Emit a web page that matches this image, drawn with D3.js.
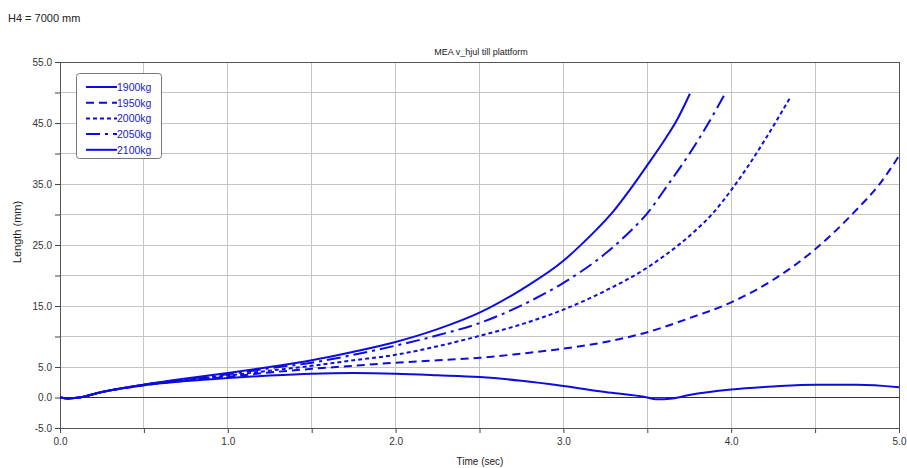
<!DOCTYPE html>
<html>
<head>
<meta charset="utf-8">
<script src="https://cdn.jsdelivr.net/npm/d3@7"></script>
<style>
  html, body { margin: 0; padding: 0; background: #fff; }
  svg { display: block; font-family: "Liberation Sans", Arial, sans-serif; }
</style>
</head>
<body>
<svg id="chart" width="907" height="468"></svg>
<script>
// ---- Data ----
const seriesNames = ["1900kg", "1950kg", "2000kg", "2050kg", "2100kg"];

const t1900 = [0, 0.05, 0.1, 0.25, 0.5, 0.75, 1.0, 1.25, 1.5, 1.75, 2.0, 2.25, 2.5, 2.75, 3.0, 3.25, 3.5, 3.55, 3.65, 3.75, 4.0, 4.25, 4.5, 4.75, 5.0];
const v1900 = [0, -0.15, -0.05, 0.9, 2.0, 2.7, 3.2, 3.6, 3.9, 4.0, 3.9, 3.65, 3.35, 2.75, 1.9, 0.9, 0.0, -0.3, -0.15, 0.4, 1.3, 1.8, 2.1, 2.1, 1.7];

const t1950 = [0, 0.05, 0.1, 0.25, 0.5, 0.75, 1.0, 1.25, 1.5, 1.75, 2.0, 2.25, 2.5, 2.75, 3.0, 3.25, 3.5, 3.75, 4.0, 4.25, 4.5, 4.73, 4.89, 5.0];
const v1950 = [0, -0.15, -0.05, 0.9, 2.0, 2.8, 3.4, 4.1, 4.7, 5.2, 5.7, 6.1, 6.5, 7.2, 8.0, 9.1, 10.7, 13.0, 15.6, 19.3, 24.3, 30.3, 35.2, 39.6];

const t2000 = [0, 0.05, 0.1, 0.25, 0.5, 0.75, 1.0, 1.25, 1.5, 1.75, 2.0, 2.25, 2.5, 2.75, 3.0, 3.25, 3.5, 3.6, 3.7, 3.8, 3.9, 4.0, 4.1, 4.2, 4.35];
const v2000 = [0, -0.15, -0.05, 0.9, 2.1, 2.9, 3.6, 4.4, 5.2, 6.1, 7.0, 8.4, 10.1, 12.0, 14.4, 17.5, 21.3, 23.2, 25.3, 27.7, 30.5, 34.0, 37.9, 42.2, 49.1];

const t2050 = [0, 0.05, 0.1, 0.25, 0.5, 0.75, 1.0, 1.25, 1.5, 1.75, 2.0, 2.25, 2.5, 2.75, 3.0, 3.25, 3.4, 3.5, 3.616, 3.745, 3.854, 3.967];
const v2050 = [0, -0.15, -0.05, 0.9, 2.1, 3.0, 3.8, 4.8, 5.7, 7.0, 8.5, 10.2, 12.2, 15.1, 18.8, 23.6, 27.3, 30.2, 34.6, 39.7, 44.5, 50.0];

const t2100 = [0, 0.05, 0.1, 0.25, 0.5, 0.75, 1.0, 1.25, 1.5, 1.75, 2.0, 2.25, 2.5, 2.75, 3.0, 3.1, 3.2, 3.3, 3.4, 3.5, 3.6, 3.675, 3.754];
const v2100 = [0, -0.15, -0.05, 0.9, 2.1, 3.1, 4.0, 5.0, 6.1, 7.5, 9.1, 11.2, 13.9, 17.7, 22.4, 24.9, 27.6, 30.6, 34.2, 38.1, 42.1, 45.4, 49.8];

const xTicks = [0, 1, 2, 3, 4, 5];
const yTickLabels = [55, 45, 35, 25, 15, 5, 0, -5];

const seriesTimes = [t1900, t1950, t2000, t2050, t2100];
const seriesValues = [v1900, v1950, v2000, v2050, v2100];
const dashes = [null, "8,5", "4,3", "14,5,3,5", null];

// ---- Layout ----
const svg = d3.select("#chart");
const m = { left: 60, right: 899, top: 62, bottom: 428 };
const x = d3.scaleLinear().domain([0, 5]).range([m.left, m.right]);
const y = d3.scaleLinear().domain([-5, 55]).range([m.bottom, m.top]);
const blue = "#0c0ce0";
const fmt1 = v => v.toFixed(1);

svg.append("text").attr("x", 8).attr("y", 22).attr("font-size", 11).attr("fill", "#222").text("H4 = 7000 mm");
svg.append("text").attr("x", 481).attr("y", 55).attr("font-size", 9).attr("text-anchor", "middle").attr("fill", "#222").text("MEA v_hjul till plattform");

// grid
const g = svg.append("g");
g.selectAll(".vg").data(d3.range(0.5, 5, 0.5)).enter().append("line")
  .attr("x1", d => x(d)).attr("x2", d => x(d)).attr("y1", m.top).attr("y2", m.bottom)
  .attr("stroke", "#c4c4c4").attr("stroke-width", 1).attr("shape-rendering", "crispEdges");
g.selectAll(".hg").data(d3.range(0, 55, 5)).enter().append("line")
  .attr("x1", m.left).attr("x2", m.right).attr("y1", d => y(d)).attr("y2", d => y(d))
  .attr("stroke", "#c4c4c4").attr("stroke-width", 1).attr("shape-rendering", "crispEdges");
// zero line
g.append("line").attr("x1", m.left).attr("x2", m.right).attr("y1", y(0)).attr("y2", y(0))
  .attr("stroke", "#333").attr("stroke-width", 1).attr("shape-rendering", "crispEdges");

// axes
const yAxis = d3.axisLeft(y).tickValues(d3.range(-5, 56, 5)).tickSize(5)
  .tickFormat(d => yTickLabels.includes(d) ? fmt1(d) : "");
const ya = svg.append("g").attr("transform", `translate(${m.left},0)`).call(yAxis);
ya.select(".domain").remove();
ya.selectAll("line").attr("stroke", "#444");
ya.selectAll("text").attr("font-size", 10).attr("fill", "#333").attr("x", -8)
  .attr("font-family", "Liberation Sans, Arial, sans-serif");

const xAxis = d3.axisBottom(x).tickValues(d3.range(0, 5.01, 0.5)).tickSize(5)
  .tickFormat(d => xTicks.includes(d) ? fmt1(d) : "");
const xa = svg.append("g").attr("transform", `translate(0,${m.bottom})`).call(xAxis);
xa.select(".domain").remove();
xa.selectAll("line").attr("stroke", "#444");
xa.selectAll("text").attr("font-size", 10).attr("fill", "#333").attr("y", 10)
  .attr("font-family", "Liberation Sans, Arial, sans-serif");

// frame
svg.append("rect").attr("x", m.left).attr("y", m.top).attr("width", m.right - m.left).attr("height", m.bottom - m.top)
  .attr("fill", "none").attr("stroke", "#555").attr("stroke-width", 1).attr("shape-rendering", "crispEdges");

svg.append("text").attr("x", 480).attr("y", 465).attr("font-size", 10).attr("text-anchor", "middle").attr("fill", "#222").text("Time (sec)");
svg.append("text").attr("transform", "translate(21,232) rotate(-90)").attr("font-size", 11).attr("text-anchor", "middle").attr("fill", "#222").text("Length (mm)");

// series
const line = d3.line().x(d => x(d[0])).y(d => y(d[1])).curve(d3.curveMonotoneX);
seriesNames.forEach((name, i) => {
  const pts = seriesTimes[i].map((t, j) => [t, seriesValues[i][j]]);
  svg.append("path").datum(pts).attr("d", line)
    .attr("fill", "none").attr("stroke", blue).attr("stroke-width", 2)
    .attr("stroke-dasharray", dashes[i]);
});

// legend
const lg = svg.append("g");
lg.append("rect").attr("x", 76.5).attr("y", 73.5).attr("width", 85).attr("height", 85).attr("rx", 3)
  .attr("fill", "#fff").attr("stroke", "#777").attr("stroke-width", 1);
seriesNames.forEach((name, i) => {
  const yy = 87 + i * 15.7;
  lg.append("line").attr("x1", 86).attr("x2", 117).attr("y1", yy).attr("y2", yy)
    .attr("stroke", blue).attr("stroke-width", 2).attr("stroke-dasharray", dashes[i]);
  lg.append("text").attr("x", 117).attr("y", yy + 4).attr("font-size", 10.5).attr("fill", "#1a1ad0").text(name);
});
</script>
</body>
</html>
